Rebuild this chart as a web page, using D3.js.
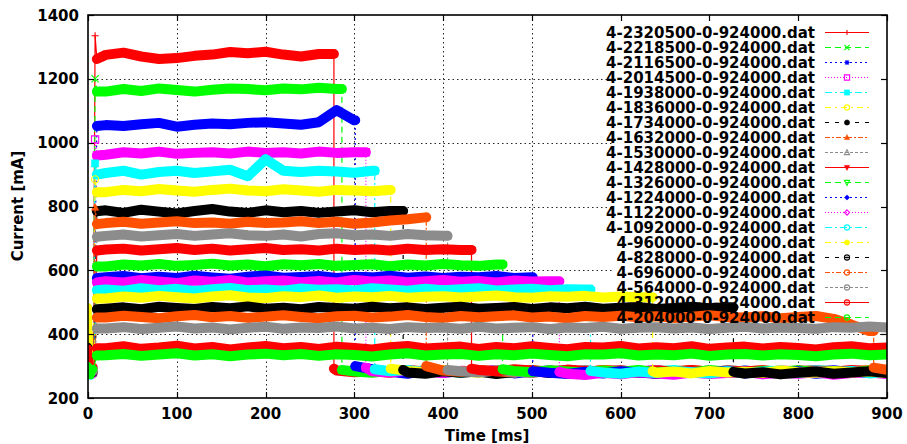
<!DOCTYPE html>
<html><head><meta charset="utf-8">
<script src="https://cdn.jsdelivr.net/npm/d3@7"></script>
<style>
body{margin:0;background:#fff}
text{font-family:"DejaVu Sans",sans-serif;font-weight:bold;fill:#000}
</style>
</head><body>
<svg id="chart" width="907" height="444"></svg>
<script>
// ---------------- data ----------------
const seriesNames = ["4-2320500-0-924000.dat","4-2218500-0-924000.dat","4-2116500-0-924000.dat","4-2014500-0-924000.dat","4-1938000-0-924000.dat","4-1836000-0-924000.dat","4-1734000-0-924000.dat","4-1632000-0-924000.dat","4-1530000-0-924000.dat","4-1428000-0-924000.dat","4-1326000-0-924000.dat","4-1224000-0-924000.dat","4-1122000-0-924000.dat","4-1092000-0-924000.dat","4-960000-0-924000.dat","4-828000-0-924000.dat","4-696000-0-924000.dat","4-564000-0-924000.dat","4-312000-0-924000.dat","4-204000-0-924000.dat"];
const seriesColors = ["#ff0000","#00ff00","#0000ff","#ff00ff","#00ffff","#ffff00","#000000","#ff5000","#8c8c8c","#ff0000","#00ff00","#0000ff","#ff00ff","#00ffff","#ffff00","#000000","#ff5000","#8c8c8c","#ff0000","#00ff00"];
const seriesDashes = ["","6,4","2,3","1,2","7,3,2,3","6,4,2,4","4,6","5,2,2,2","3,2","","6,4","2,3","1,2","7,3,2,3","6,4,2,4","4,6","5,2,2,2","3,2","","6,4"];
const seriesMarkers = ["plus","cross","star","sqOpen","sqFill","circOpen","circFill","triUpFill","triUpOpen","triDownFill","triDownOpen","diamFill","diamOpen","circOpen","circFill","circDot","circOpen","circOpen","circDot","circOpen"];

const xTicks = [0,100,200,300,400,500,600,700,800,900];
const yTicks = [200,400,600,800,1000,1200,1400];

// start of each run (t = 0, 3, 6 ms)
const startTimes = [0,3,6];
const startValues = [[409,280,290],[300,285,278],[437,290,282],[330,276,288],[310,283,280],[484,288,276],[390,279,292],[350,286,281],[300,275,289],[405,292,284],[320,281,277],[400,278,294],[300,287,273],[310,270,286],[450,283,290],[360,294,279],[320,280,285],[300,276,282],[355,289,297],[300,272,291]];
// overshoot at t = 8 ms (null = none)
const spikeValues = [1335,1200,null,1010,935,885,null,797,null,null,null,null,null,null,null,null,null,null,null,null];
// value at t = 10 ms
const riseValues = [1262,1160,1052,960,900,845,785,745,705,662,612,576,562,538,512,478,452,418,356,333];

const sampleTimes = [20,40,60,80,100,120,140,160,180,200,220,240,260,280,300,320,340,360,380,400,420,440,460,480,500,520,540,560,580,600,620,640,660,680,700,720,740,760,780,800,820,840,860,880,900];

// end of the busy plateau (ms); null = busy to the end
const endTimes = [277,286,301,313,323,341,355,381,405,432,467,501,531,566,636,727,885,null,null,null];

const plateau1 = [1275,1282,1270,1262,1265,1272,1276,1284,1280,1285,1276,1270,1278];
const plateau2 = [1160,1168,1162,1170,1165,1160,1166,1170,1168,1164,1170,1167,1172,1168];
const plateau3 = [1055,1052,1058,1062,1050,1056,1060,1058,1062,1064,1060,1056,1064,1102,1070];
const plateau4 = [962,970,966,972,965,968,970,966,972,968,970,966,972,968,970];
const plateau5 = [905,912,900,908,912,905,910,915,895,948,912,908,912,910,906,912];
const plateau6 = [845,852,848,855,850,846,852,856,850,848,854,850,846,852,850,848,852];
const plateau7 = [788,780,790,784,778,786,792,784,780,788,782,786,780,784,788,782,786];
const plateau8 = [748,752,746,750,754,748,750,746,752,748,750,754,748,752,746,750,756,760,766];
const plateau9 = [708,712,706,710,714,708,712,716,710,708,712,706,714,716,710,712,708,714,710,708];
const plateau10 = [665,668,662,666,670,664,668,662,666,670,664,666,662,668,664,666,662,668,664,666,664];
const plateau11 = [612,618,615,620,614,617,621,615,618,613,619,616,620,614,617,619,613,618,615,620,616,614,618];
const plateau12 = [578,582,575,580,576,583,578,574,580,584,577,579,582,576,580,578,583,577,581,576,580,578,582,576,578];
const plateau13 = [566,562,570,565,560,568,564,570,562,566,568,563,567,562,570,565,568,563,566,570,564,567,562,568,565,566];
const plateau14 = [540,536,544,538,542,535,541,545,538,540,536,543,539,541,537,544,540,536,542,538,541,544,537,540,542,538,541,540];
const plateau15 = [512,518,514,520,516,512,518,522,515,513,519,516,521,514,518,516,520,514,517,519,515,518,521,516,514,519,517,520,515,518,516];
const plateau16 = [480,484,478,486,482,479,485,481,487,480,483,478,485,482,480,486,481,484,479,483,486,480,482,485,479,484,481,486,480,483,485,479,482,486,481,484];
const plateau17 = [452,458,454,450,456,460,453,457,451,455,459,454,450,456,458,452,455,460,454,451,457,453,456,459,452,455,450,457,454,458,453,456,451,455,459,454,452,456,450,454,457,448,430,410];
const plateau18 = [418,422,416,420,424,418,421,415,420,423,417,421,419,424,418,420,416,422,419,421,417,423,418,420,422,416,421,419,423,417,420,422,418,421,416,420,423,418,421,419,417,422,420,424,421];
const plateau19 = [356,362,354,358,364,355,360,352,358,363,356,360,354,361,357,352,359,363,355,358,361,354,360,356,362,357,353,360,358,363,355,359,356,362,354,358,361,355,360,357,352,359,362,356,358];
const plateau20 = [334,338,332,336,340,333,337,331,336,339,334,338,332,337,335,330,336,340,333,336,338,332,337,334,339,335,331,337,336,340,333,336,334,339,332,336,338,333,337,335,331,336,339,334,336];

// idle values after the plateau (first value at the drop, then the sample times after it)
const tail1 = [292,286,281,284,279,288,283,285,280,287,282,284,279,286,283,281,288,284,280,285,282,287,283,279,284,286,281,285,283,280,284,282,286];
const tail2 = [288,283,279,285,281,287,284,280,286,282,278,285,283,288,281,284,279,286,282,285,280,287,283,281,285,279,284,288,282,280,286,283];
const tail3 = [300,290,282,276,286,279,284,281,288,277,283,286,280,285,278,284,282,287,279,283,285,280,286,281,284,278,283,287,280,284,282];
const tail4 = [295,284,280,286,282,278,285,283,287,281,284,279,286,282,280,285,283,288,281,284,279,286,282,285,280,283,287,281,284,282,286];
const tail5 = [290,284,288,281,285,279,286,283,280,287,282,285,278,284,286,281,283,288,280,285,282,279,286,284,281,287,283,280,285,282];
const tail6 = [292,285,281,287,283,279,286,282,288,280,284,281,286,283,279,285,282,287,281,284,280,286,283,285,279,284,282,287,281];
const tail7 = [288,280,276,284,279,283,275,281,286,278,282,277,285,280,283,276,281,284,279,282,277,285,280,283,278,281,284,279,282];
const tail8 = [300,286,282,288,284,280,287,283,285,281,288,284,279,286,282,285,280,287,283,281,286,284,280,285,282,287,283];
const tail9 = [288,284,280,286,282,279,285,283,288,281,284,280,286,282,285,279,287,283,281,285,282,286,280,284,283,287];
const tail10 = [292,288,284,290,286,282,289,285,283,287,281,286,284,288,282,285,283,287,281,286,284,282,288,285,283];
const tail11 = [290,285,281,287,283,279,286,282,288,280,284,281,286,283,279,285,282,287,281,284,280,286,283];
const tail12 = [284,279,275,282,277,284,280,276,283,278,281,285,277,282,279,284,276,281,283,278,282];
const tail13 = [282,276,272,279,274,281,277,273,280,275,278,282,274,279,276,281,273,278,280,275];
const tail14 = [285,280,276,283,278,285,281,277,284,279,282,286,278,283,280,285,277,282];
const tail15 = [284,279,283,277,285,280,282,278,286,281,279,284,280,283,278];
const tail16 = [282,277,281,274,279,283,276,280,284,278];
const tail17 = [295,288];

const plateauValues = [plateau1,plateau2,plateau3,plateau4,plateau5,plateau6,plateau7,plateau8,plateau9,plateau10,plateau11,plateau12,plateau13,plateau14,plateau15,plateau16,plateau17,plateau18,plateau19,plateau20];
const tailValues = [tail1,tail2,tail3,tail4,tail5,tail6,tail7,tail8,tail9,tail10,tail11,tail12,tail13,tail14,tail15,tail16,tail17,[],[],[]];

// ---------------- chart ----------------
const svg = d3.select("#chart");
const x = d3.scaleLinear().domain([0,900]).range([88,887]);
const y = d3.scaleLinear().domain([200,1400]).range([398,15]);

const series = seriesNames.map((name,i)=>{
  const start = startTimes.map((t,k)=>({t, v:startValues[i][k]}));
  const busy = [];
  if (spikeValues[i] !== null) busy.push({t:8, v:spikeValues[i]});
  const band = [{t:10, v:riseValues[i]}];
  const end = endTimes[i];
  const pts = plateauValues[i];
  const busyTimes = sampleTimes.filter(t => end === null || t < end);
  busyTimes.forEach((t,k)=>{ if (k < pts.length) band.push({t, v:pts[k]}); });
  if (end !== null) band.push({t:end, v:pts[pts.length-1]});
  const tail = [];
  if (end !== null) {
    const tv = tailValues[i];
    tail.push({t:end, v:tv[0]});
    sampleTimes.filter(t=>t>end).forEach((t,k)=>{ if (k+1 < tv.length) tail.push({t, v:tv[k+1]}); });
  }
  return {name, i, start, busy, band, tail, all: start.concat(busy, band, tail)};
});

const line = d3.line().x(d=>x(d.t)).y(d=>y(d.v));

function markerPath(type, s){
  switch(type){
    case "plus": return `M${-s},0H${s}M0,${-s}V${s}`;
    case "cross": return `M${-s},${-s}L${s},${s}M${-s},${s}L${s},${-s}`;
    case "star": { const c=s*0.75; return `M${-s},0H${s}M0,${-s}V${s}M${-c},${-c}L${c},${c}M${-c},${c}L${c},${-c}`; }
    case "sqOpen": case "sqFill": return `M${-s},${-s}H${s}V${s}H${-s}Z`;
    case "circOpen": case "circFill": case "circDot":
      return `M${s},0A${s},${s} 0 1,1 ${-s},0A${s},${s} 0 1,1 ${s},0Z`;
    case "triUpFill": case "triUpOpen": return `M0,${-s*1.1}L${s},${s*0.8}L${-s},${s*0.8}Z`;
    case "triDownFill": case "triDownOpen": return `M0,${s*1.1}L${s},${-s*0.8}L${-s},${-s*0.8}Z`;
    case "diamFill": case "diamOpen": return `M0,${-s}L${s},0L0,${s}L${-s},0Z`;
  }
  return "";
}
function isFilled(type){ return /Fill$/.test(type); }

function drawMarker(g, type, color, cx, cy, s){
  const p = g.append("path").attr("d", markerPath(type,s)).attr("transform",`translate(${cx},${cy})`);
  if (isFilled(type)) p.attr("fill",color).attr("stroke",color).attr("stroke-width",0.6);
  else p.attr("fill","none").attr("stroke",color).attr("stroke-width",1.1);
  if (type==="circDot") g.append("circle").attr("cx",cx).attr("cy",cy).attr("r",1).attr("fill",color);
}

// grid
const gridG = svg.append("g").attr("stroke","#000").attr("stroke-width",1).attr("stroke-dasharray","1.5,3").attr("opacity",0.85);
xTicks.filter(t=>t>0 && t<900).forEach(t=>{
  gridG.append("line").attr("x1",Math.round(x(t))+0.5).attr("x2",Math.round(x(t))+0.5).attr("y1",y(1400)).attr("y2",y(200));
});
yTicks.filter(v=>v>200 && v<1400).forEach(v=>{
  gridG.append("line").attr("x1",x(0)).attr("x2",x(900)).attr("y1",Math.round(y(v))+0.5).attr("y2",Math.round(y(v))+0.5);
});

// opaque key background (covers grid only)
const rowH = 15, row0 = 32;
svg.append("rect").attr("x",613).attr("y",17).attr("width",887-613-1).attr("height",row0 + rowH*seriesNames.length - 17 - 6).attr("fill","#fff");

svg.append("clipPath").attr("id","pc").append("rect").attr("x",88).attr("y",15).attr("width",799).attr("height",383);

const dataLayer = svg.append("g");
series.forEach(s=>{
  const c = seriesColors[s.i];
  const type = seriesMarkers[s.i];
  const rowY = row0 + rowH*s.i;
  dataLayer.append("text").attr("x",815).attr("y",rowY+5.5).attr("text-anchor","end").attr("font-size","15px").text(s.name);
  dataLayer.append("line").attr("x1",825).attr("x2",869).attr("y1",rowY+0.5).attr("y2",rowY+0.5)
    .attr("stroke",c).attr("stroke-width",1.2).attr("stroke-dasharray",seriesDashes[s.i]||null);
  drawMarker(dataLayer, type, c, 847, rowY+0.5, 2.6);

  const g = dataLayer.append("g").attr("clip-path","url(#pc)");
  [s.start, s.band, s.tail].forEach((seg,k)=>{
    if (seg.length<2) return;
    g.append("path").attr("d",line(seg)).attr("fill","none").attr("stroke",c)
      .attr("stroke-width", k===0 ? 7 : 10).attr("stroke-linejoin","round").attr("stroke-linecap","round");
  });
  g.append("path").attr("d",line(s.all)).attr("fill","none").attr("stroke",c).attr("stroke-width",1.2)
    .attr("stroke-dasharray",seriesDashes[s.i]||null);
  s.all.forEach(d=> drawMarker(g, type, c, x(d.t), y(d.v), 3.6));
});

// border and ticks
const axG = svg.append("g").attr("stroke","#000");
axG.append("rect").attr("x",88).attr("y",15).attr("width",799).attr("height",383).attr("fill","none").attr("stroke-width",1.6);
xTicks.forEach(t=>{
  const px = Math.round(x(t))+0.5;
  axG.append("line").attr("x1",px).attr("x2",px).attr("y1",398).attr("y2",392).attr("stroke-width",1.2);
  axG.append("line").attr("x1",px).attr("x2",px).attr("y1",15).attr("y2",21).attr("stroke-width",1.2);
});
yTicks.forEach(v=>{
  const py = Math.round(y(v))+0.5;
  axG.append("line").attr("x1",88).attr("x2",94).attr("y1",py).attr("y2",py).attr("stroke-width",1.2);
  axG.append("line").attr("x1",887).attr("x2",881).attr("y1",py).attr("y2",py).attr("stroke-width",1.2);
});

// tick labels
svg.append("g").selectAll("text").data(yTicks).join("text")
  .attr("x",79).attr("y",v=>y(v)+5.5).attr("text-anchor","end").attr("font-size","15px").text(v=>v);
svg.append("g").selectAll("text").data(xTicks).join("text")
  .attr("x",t=>x(t)).attr("y",418.5).attr("text-anchor","middle").attr("font-size","15px").text(t=>t);

// axis titles
svg.append("text").attr("x",487).attr("y",441).attr("text-anchor","middle").attr("font-size","15px").text("Time [ms]");
svg.append("text").attr("transform","translate(23,206) rotate(-90)").attr("text-anchor","middle").attr("font-size","15px").text("Current [mA]");
</script>
</body></html>
